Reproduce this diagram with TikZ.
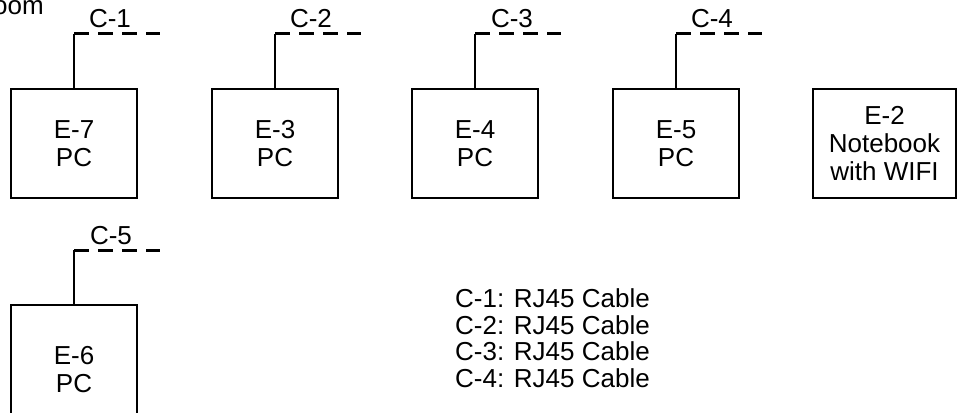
\documentclass[tikz,border=0pt]{standalone}
\usepackage{fontspec}
\setmainfont{Liberation Sans}
\tikzset{
  dev/.style={draw, line width=2pt, minimum width=126pt, minimum height=109pt,
    inner sep=0pt, align=center, anchor=north west,
    font=\fontsize{26}{28}\selectfont},
  wire/.style={line width=2pt},
  cable/.style={line width=3pt, dash pattern=on 15pt off 9pt},
  clabel/.style={anchor=base, inner sep=0pt, font=\fontsize{26}{28}\selectfont},
  plain/.style={inner sep=0pt, font=\fontsize{26}{28}\selectfont},
}
\begin{document}
\begin{tikzpicture}[x=1pt, y=-1pt]
\useasboundingbox (0,0) rectangle (957,412);
\clip (0,0) rectangle (957,412);

\node[plain, anchor=base west] (room) at (-7,15) {oom};

% devices
\node[dev] (e7) at (10,88) {E-7\\PC};
\node[dev] (e3) at (211,88) {E-3\\PC};
\node[dev] (e4) at (411,88) {E-4\\PC};
\node[dev] (e5) at (612,88) {E-5\\PC};
\node[dev, minimum width=143pt] (e2) at (812,88) {E-2\\Notebook\\with WIFI};
\node[dev, minimum height=130pt] (e6) at (10,304) {E-6\\PC};

% cable corners and ends
\coordinate (c1a) at (e7.north |- 0,34);
\coordinate (c1b) at (160,34);
\coordinate (c2a) at (e3.north |- 0,34);
\coordinate (c2b) at (361,34);
\coordinate (c3a) at (e4.north |- 0,34);
\coordinate (c3b) at (561,34);
\coordinate (c4a) at (e5.north |- 0,34);
\coordinate (c4b) at (762,34);
\coordinate (c5a) at (e6.north |- 0,250);
\coordinate (c5b) at (160,250);

\draw[wire] (e7.north) -- (c1a);
\draw[cable] (c1a) -- (c1b);
\draw[wire] (e3.north) -- (c2a);
\draw[cable] (c2a) -- (c2b);
\draw[wire] (e4.north) -- (c3a);
\draw[cable] (c3a) -- (c3b);
\draw[wire] (e5.north) -- (c4a);
\draw[cable] (c4a) -- (c4b);
\draw[wire] (e6.north) -- (c5a);
\draw[cable] (c5a) -- (c5b);

% cable labels
\node[clabel] (l1) at (110,28) {C-1};
\node[clabel] (l2) at (311,28) {C-2};
\node[clabel] (l3) at (512,28) {C-3};
\node[clabel] (l4) at (712,28) {C-4};
\node[clabel] (l5) at (111,244) {C-5};

% legend
\node[plain, anchor=north west, align=left, font=\fontsize{26}{26.7}\selectfont] (legend) at (455,288.5)
  {C-1: RJ45 Cable\\C-2: RJ45 Cable\\C-3: RJ45 Cable\\C-4: RJ45 Cable};
\end{tikzpicture}
\end{document}
